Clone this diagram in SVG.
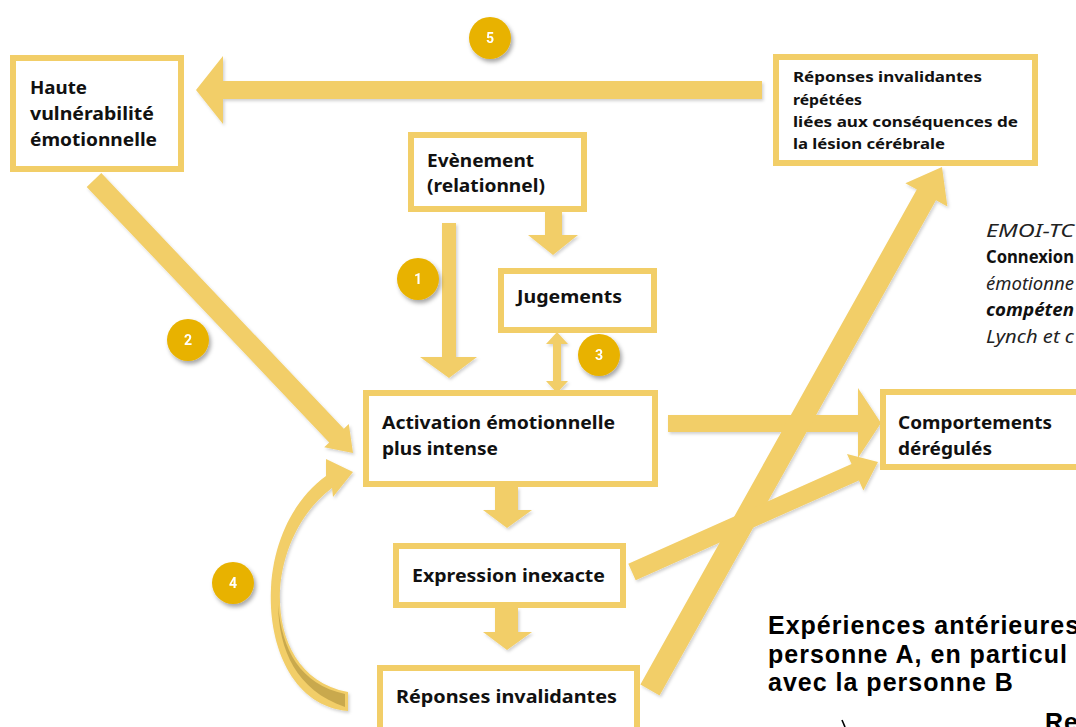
<svg xmlns="http://www.w3.org/2000/svg" width="1076" height="727" viewBox="0 0 1076 727">
  <defs>
    <filter id="sh" x="-30%" y="-30%" width="160%" height="160%">
      <feDropShadow dx="2" dy="3" stdDeviation="2" flood-color="#000" flood-opacity="0.35"/>
    </filter>
    <filter id="ash" x="-10%" y="-10%" width="120%" height="120%">
      <feDropShadow dx="1.5" dy="2" stdDeviation="1.5" flood-color="#000" flood-opacity="0.18"/>
    </filter>
  </defs>
  <style>
    .box { fill: #ffffff; stroke: #F2CE68; stroke-width: 6; }
    .arr { fill: #F2CE68; }
    .lbl { font-family: "Noto Sans", "Liberation Sans", sans-serif; font-weight: 700; font-size: 17px; fill: #111; }
    .sm { font-family: "Noto Sans", "Liberation Sans", sans-serif; font-weight: 700; font-size: 14px; fill: #111; }
    .num { font-family: "Roboto", "Liberation Sans", sans-serif; font-weight: 700; font-size: 14px; fill: #fff; text-anchor: middle; }
    .badge { fill: #E8B200; }
    .it { font-family: "Noto Sans", "Liberation Sans", sans-serif; font-size: 18px; font-style: italic; font-weight: 400; fill: #222; }
    .itb { font-family: "Noto Sans", "Liberation Sans", sans-serif; font-size: 18px; font-weight: 700; fill: #111; }
    .big { font-family: "Liberation Sans", Arial, sans-serif; font-weight: 700; font-size: 25px; fill: #000; letter-spacing: 1px; }
  </style>

  <g id="connectors" filter="url(#ash)">
    <!-- 5: Réponses répétées -> Haute vulnérabilité -->
    <polygon class="arr" points="762,81 223,81 223,56 196,90 223,124 223,99 762,99"/>
    <!-- 2: Haute vulnérabilité -> Activation -->
    <polygon class="arr" points="101.3,173.1 343.8,428.7 348.8,423.9 353,453 324.2,447.3 329.2,442.5 86.7,186.9"/>
    <!-- Evènement -> Jugements -->
    <polygon class="arr" points="545,212 562,212 562,235 578,235 553,255 528,235 545,235"/>
    <!-- 1: Evènement -> Activation -->
    <polygon class="arr" points="442,223 456,223 456,357 477,357 449,378 420,357 442,357"/>
    <!-- 3: Jugements <-> Activation -->
    <polygon class="arr" points="557,332 568,344 561,344 561,381 568,381 557,393 546,381 553,381 553,344 546,344"/>
    <!-- Activation -> Comportements -->
    <polygon class="arr" points="668,415 858,415 858,388 881,423 858,458 858,432 668,432"/>
    <!-- Activation -> Expression -->
    <polygon class="arr" points="495,487 518,487 518,510 532,510 507,528 483,510 495,510"/>
    <!-- Expression -> Réponses invalidantes -->
    <polygon class="arr" points="495,608 518,608 518,632 532,632 507,650 483,632 495,632"/>
    <!-- Réponses invalidantes -> Réponses répétées -->
    <polygon class="arr" points="640.4,684.6 916.8,189.5 905.4,183.2 942,167 947.4,206.6 936,200.3 659.6,695.4"/>
    <!-- Expression -> Comportements -->
    <polygon class="arr" points="628.3,563.8 851.5,464 847,453.9 878,462 863.4,490.5 858.9,480.4 635.7,580.2"/>
    <!-- 4: curved arrow Réponses invalidantes -> Activation -->
    <path class="arr" d="M 348 711 C 292 706 268 645 271 588 C 274 535 298 496 326 476 L 326 459 L 353 472 L 333 497 L 332 488 C 305 508 283 545 280 590 C 278 635 296 682 348 692 Z"/>
    <path fill="#C9A94E" d="M 345 694 C 300 684 282 650 278 605 C 279 650 296 690 345 707 Z"/>
  </g>

  <g id="node-haute">
    <rect class="box" x="13" y="58" width="168" height="111"/>
    <text class="lbl" x="30" y="94" textLength="57" lengthAdjust="spacingAndGlyphs">Haute</text>
    <text class="lbl" x="30" y="120" textLength="124" lengthAdjust="spacingAndGlyphs">vulnérabilité</text>
    <text class="lbl" x="30" y="146" textLength="127" lengthAdjust="spacingAndGlyphs">émotionnelle</text>
  </g>
  <g id="node-repetees">
    <rect class="box" x="776" y="57" width="259" height="106"/>
    <text class="sm" x="793" y="82" textLength="189" lengthAdjust="spacingAndGlyphs">Réponses invalidantes</text>
    <text class="sm" x="793" y="105" textLength="69" lengthAdjust="spacingAndGlyphs">répétées</text>
    <text class="sm" x="793" y="127" textLength="225" lengthAdjust="spacingAndGlyphs">liées aux conséquences de</text>
    <text class="sm" x="793" y="149" textLength="152" lengthAdjust="spacingAndGlyphs">la lésion cérébrale</text>
  </g>
  <g id="node-evenement">
    <rect class="box" x="411" y="135" width="173" height="74"/>
    <text class="lbl" x="427" y="167" textLength="107" lengthAdjust="spacingAndGlyphs">Evènement</text>
    <text class="lbl" x="427" y="192" textLength="118" lengthAdjust="spacingAndGlyphs">(relationnel)</text>
  </g>
  <g id="node-jugements">
    <rect class="box" x="501" y="271" width="153" height="59"/>
    <text class="lbl" x="517" y="303" textLength="105" lengthAdjust="spacingAndGlyphs">Jugements</text>
  </g>
  <g id="node-activation">
    <rect class="box" x="366" y="393" width="289" height="91"/>
    <text class="lbl" x="382" y="429" textLength="233" lengthAdjust="spacingAndGlyphs">Activation émotionnelle</text>
    <text class="lbl" x="382" y="455" textLength="116" lengthAdjust="spacingAndGlyphs">plus intense</text>
  </g>
  <g id="node-comportements">
    <rect class="box" x="883" y="392" width="200" height="75"/>
    <text class="lbl" x="898" y="429" textLength="154" lengthAdjust="spacingAndGlyphs">Comportements</text>
    <text class="lbl" x="898" y="455" textLength="94" lengthAdjust="spacingAndGlyphs">dérégulés</text>
  </g>
  <g id="node-expression">
    <rect class="box" x="396" y="546" width="227" height="59"/>
    <text class="lbl" x="412" y="582" textLength="193" lengthAdjust="spacingAndGlyphs">Expression inexacte</text>
  </g>
  <g id="node-reponses">
    <rect class="box" x="380" y="668" width="257" height="70"/>
    <text class="lbl" x="396" y="703" textLength="221" lengthAdjust="spacingAndGlyphs">Réponses invalidantes</text>
  </g>

  <g id="badges">
    <g id="badge-1" filter="url(#sh)"><circle class="badge" cx="418" cy="279" r="21"/><text class="num" x="418" y="284">1</text></g>
    <g id="badge-2" filter="url(#sh)"><circle class="badge" cx="188" cy="340" r="21"/><text class="num" x="188" y="345">2</text></g>
    <g id="badge-3" filter="url(#sh)"><circle class="badge" cx="599" cy="355" r="21"/><text class="num" x="599" y="360">3</text></g>
    <g id="badge-4" filter="url(#sh)"><circle class="badge" cx="233" cy="583" r="21"/><text class="num" x="233" y="588">4</text></g>
    <g id="badge-5" filter="url(#sh)"><circle class="badge" cx="490" cy="38" r="21"/><text class="num" x="490" y="43">5</text></g>
  </g>

  <g id="side-note">
    <text class="it" x="986" y="237" textLength="88" lengthAdjust="spacingAndGlyphs">EMOI-TC</text>
    <text class="itb" x="986" y="263" textLength="88" lengthAdjust="spacingAndGlyphs">Connexion</text>
    <text class="it" x="986" y="290" textLength="88" lengthAdjust="spacingAndGlyphs">émotionne</text>
    <text class="itb" x="986" y="316" font-style="italic" textLength="88" lengthAdjust="spacingAndGlyphs">compéten</text>
    <text class="it" x="986" y="343" textLength="88" lengthAdjust="spacingAndGlyphs">Lynch et c</text>
  </g>

  <g id="bottom-note">
    <text class="big" x="768" y="634">Expériences antérieures</text>
    <text class="big" x="768" y="663">personne A, en particul</text>
    <text class="big" x="768" y="691">avec la personne B</text>
    <text class="big" x="1045" y="731">Re</text>
    <path d="M 842 720 L 845 727" stroke="#000" stroke-width="1.6" fill="none"/>
  </g>
</svg>
